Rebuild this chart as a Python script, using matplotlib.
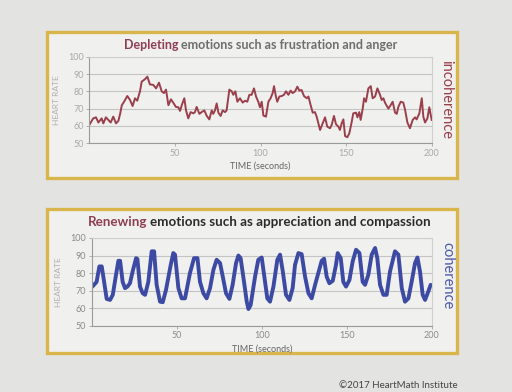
import matplotlib
matplotlib.use("Agg")
import matplotlib.pyplot as plt
from matplotlib.patches import Rectangle

# ---- data ----
# depleting emotions (incoherent heart rhythm)
t_deplete = [0, 2.3, 3.9, 5.3, 7.2, 8.2, 9.7, 11.1, 12.5, 14, 15.6, 17, 18, 19, 20.3,
             22.2, 23.8, 25.3, 26.7, 28, 29.6, 30.6, 32.5, 33.9, 35.4, 37.4, 39, 40.7,
             42.3, 43.6, 44.8, 46.2, 47.7, 49, 50.6, 52, 53, 54, 55.5, 56.5, 57.8, 59.2,
             60.8, 61.7, 62.7, 64.3, 65.6, 67.2, 68.5, 70.1, 71.5, 72.4, 73.4, 74.4, 75.4,
             76.7, 77.9, 79.3, 80.2, 81.8, 83.2, 84.1, 85.3, 86.5, 88, 89.6, 91, 92.3,
             93.5, 94.8, 96.2, 97.4, 98.7, 99.7, 100.7, 101.7, 103.2, 104.6, 105.9, 107.1,
             107.9, 109, 109.8, 111, 112.4, 113.7, 114.9, 116.3, 117.6, 118.8, 120.2,
             121.5, 122.7, 124, 125.4, 127, 128, 129.3, 130.5, 131.8, 132.8, 134.8, 136.3,
             137.7, 139, 140.6, 141.6, 142.9, 144.1, 145.5, 146.4, 147.4, 148.4, 149.4,
             150.7, 151.9, 153.3, 154.2, 155.8, 156.6, 157.7, 158.5, 159.7, 160.5, 161.6,
             163, 164.4, 165.5, 166.9, 168.3, 169.8, 170.8, 171.8, 172.7, 174.7, 176,
             177.2, 178.6, 179.6, 180.5, 181.9, 183.4, 184.4, 185.8, 187.3, 188.9, 190.3,
             191.2, 192.8, 194.2, 195.1, 196.1, 197.5, 198.6, 200]
hr_deplete = [60.6, 64.4, 65, 62, 64.4, 61.5, 65, 63.5, 62, 65.4, 61.5, 63, 67, 72, 74,
              77.3, 75, 71.5, 76, 74.6, 80, 85.6, 87, 88.5, 84, 83.7, 81.7, 85,
              80, 79, 81, 72, 75.4, 73.5, 71, 70.8, 68.7, 72, 76, 69, 64.4, 68,
              67.3, 68, 71, 67, 68, 69, 66, 63.8, 69, 67, 69, 73, 67.7,
              65.8, 69, 68, 69, 81, 80, 78, 80, 74, 76, 73.5, 74.6, 74,
              78, 78, 81.7, 77, 74, 70.8, 74, 66, 65.4, 74, 76, 79,
              83, 77, 74, 77, 77.3, 78, 80, 78, 80.4, 79, 80,
              82.7, 80.4, 80.8, 77.3, 76, 77, 72, 67.7, 68, 65.4, 57.7, 61.5,
              65, 59.6, 58.7, 60.6, 65.8, 61, 59.6, 57.7, 61.5, 63.8, 54.2,
              53.5, 55.8, 62.5, 67.3, 67.7, 65, 68, 63.5, 70, 76, 74,
              81.7, 83, 76, 77, 81.7, 78, 75, 76, 73.5, 70, 72,
              74, 67.7, 67, 71, 74, 73.5, 69.6, 62, 58.7, 63.5, 65,
              63.8, 67.3, 76, 65.4, 62, 64.4, 70.8, 63.5]

# renewing emotions (coherent heart rhythm)
t_renew = [0, 1, 2.9, 4.5, 5.9, 7.3, 8.8, 10.8, 12.4, 14.3, 15.7, 16.7, 18.2, 19.6, 21,
           22.5, 24.1, 26.1, 26.9, 28.4, 30, 31.4, 33.3, 35.3, 36.7, 38.2, 40.2, 41.8,
           43.7, 46.5, 48, 49, 51, 52.9, 54.9, 57.8, 60.2, 62.2, 63.7, 65.7, 67.6, 69.6,
           71.6, 73.5, 75.5, 77.1, 79, 81, 82.9, 84.9, 86.3, 87.6, 89.6, 91.2, 92.2,
           93.5, 96.1, 98, 100, 101.4, 103.3, 104.9, 106.9, 109.2, 110.8, 112.4, 114.3,
           116.3, 118.2, 119.6, 121.6, 123.5, 125.5, 127.5, 129.4, 131.4, 133.3, 135.3,
           136.7, 138.2, 139.8, 141.8, 143.7, 144.7, 146.5, 148, 149.6, 151.6, 153.5,
           155.5, 157.5, 159.4, 160.8, 162.7, 164.7, 166.7, 168, 169.6, 171.6, 173.5,
           175.5, 178.4, 180.4, 182.4, 184.3, 186.3, 188.2, 190.2, 191.6, 193.1, 194.7,
           196.1, 198, 199.4]
hr_renew = [72, 72.9, 75, 83.8, 83.8, 75, 65.3, 64.7, 67.6, 79, 87, 87, 75, 71.4, 72.3,
            74.2, 81, 88.5, 88, 72.3, 68.5, 67.6, 75, 92.4, 92.4, 73.3, 63.7, 63.4,
            70.4, 84.7, 91.4, 90.5, 71.4, 65.6, 65.6, 80, 88.5, 88.5, 75, 68.5, 65.6, 71.4,
            81.9, 87.6, 85.7, 78, 68.5, 65.3, 73.3, 85.7, 90, 88.5, 75, 63.7, 59.5,
            61.8, 78, 87.6, 88.9, 79, 65.6, 63.7, 72.3, 87.6, 90.5, 81, 67.6,
            64.7, 71.4, 84.7, 91.4, 90.8, 78, 68.5, 65.6, 73.3, 80, 87,
            88.2, 78, 74.2, 75.6, 84.7, 91.4, 88.5, 75, 72.3, 76, 86.6,
            93.3, 91.4, 75, 73.3, 79, 90.5, 94.3, 88.5, 73.3, 67.6, 67.6,
            81, 92.4, 90.5, 71.4, 63.7, 65.6, 75, 85.7, 88.9, 81, 67.6,
            64.7, 69.5, 73.3]

x_ticks = [50, 100, 150, 200]
y_ticks = [50, 60, 70, 80, 90, 100]

W, H = 512, 392
fig = plt.figure(figsize=(W / 100, H / 100), dpi=100)
fig.patch.set_facecolor("#e3e3e1")
plt.rcParams['font.family'] = ['Lato', 'DejaVu Sans']

maroon = "#9a3f4b"
blue = "#3d4aa3"
gold = "#d9b64c"


def px(x, y):
    # pixel coords (from top-left) -> figure fraction
    return x / W, 1 - y / H


# gold framed boxes (behind the axes)
for (x0, y0, x1, y1) in [(47, 32, 457, 178), (47, 209, 457, 353)]:
    fx, fy = px(x0, y1)
    fig.patches.append(Rectangle((fx, fy), (x1 - x0) / W, (y1 - y0) / H,
                                 transform=fig.transFigure, facecolor="#f0f0ee",
                                 edgecolor=gold, linewidth=2.4, zorder=-5))


def style_axes(ax, tick_col):
    ax.set_xlim(0, 200)
    ax.set_ylim(50, 100)
    ax.set_xticks(x_ticks)
    ax.set_yticks(y_ticks)
    ax.set_facecolor("none")
    ax.grid(axis="y", color="#c4c4c4", linewidth=0.8)
    ax.set_axisbelow(True)
    for s in ["left", "bottom"]:
        ax.spines[s].set_color("#9a9a9a")
    for s in ["top", "right"]:
        ax.spines[s].set_color("#cfcfcf")
    ax.tick_params(axis="both", colors="#b0b0b0", labelcolor=tick_col,
                   labelsize=6.5, length=2.5, width=0.7, pad=1.5)
    ax.set_xlabel("TIME (seconds)", fontsize=6.5, color="#666666", labelpad=3)
    ax.set_ylabel("HEART RATE", fontsize=6, color="#b0b0b0", labelpad=6)


# top chart: depleting emotions
ax1 = fig.add_axes([89.3 / W, 1 - 143.3 / H, 342.4 / W, 86.6 / H])
ax1.plot(t_deplete, hr_deplete, color=maroon, linewidth=1.4, solid_joinstyle="round")
style_axes(ax1, "#a8a8a8")

# bottom chart: renewing emotions
ax2 = fig.add_axes([91.7 / W, 1 - 325.7 / H, 340 / W, 87.7 / H])
ax2.plot(t_renew, hr_renew, color=blue, linewidth=2.8, solid_joinstyle="round",
         solid_capstyle="round")
style_axes(ax2, "#8a8a8a")

renderer = fig.canvas.get_renderer()


def two_tone(cx, cy, first, rest, c1, c2, size):
    a = fig.text(0, 0, first, color=c1, fontsize=size, fontweight="bold", va="center")
    b = fig.text(0, 0, rest, color=c2, fontsize=size, fontweight="bold", va="center")
    w1 = a.get_window_extent(renderer).width
    w2 = b.get_window_extent(renderer).width
    gap = size * 0.3
    x0 = cx - (w1 + gap + w2) / 2
    a.set_position(px(x0, cy))
    b.set_position(px(x0 + w1 + gap, cy))


two_tone(261, 45, "Depleting", "emotions such as frustration and anger",
         "#8e3f52", "#6e6e6e", 9)
two_tone(259, 222, "Renewing", "emotions such as appreciation and compassion",
         "#8e3f52", "#2b2b2b", 9.6)

fig.text(*px(446, 99), "incoherence", color=maroon, fontsize=10.5, rotation=270,
         ha="center", va="center")
fig.text(*px(447, 276), "coherence", color="#4a58aa", fontsize=10.5, rotation=270,
         ha="center", va="center")

fig.text(*px(398, 385), "\u00a92017 HeartMath Institute", color="#444444",
         fontsize=7, ha="center", va="center")

fig.savefig("out.png", dpi=100, facecolor=fig.get_facecolor())
